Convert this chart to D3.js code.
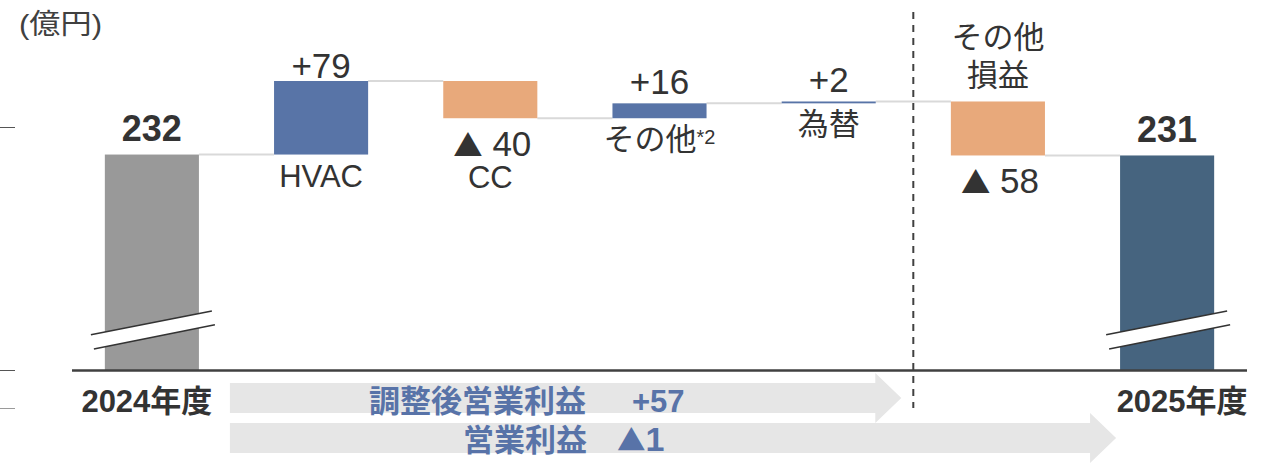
<!DOCTYPE html>
<html>
<head>
<meta charset="utf-8">
<script src="https://cdn.jsdelivr.net/npm/d3@7"></script>
<style>
  body { margin: 0; background: #fff; }
  svg { display: block; }
</style>
</head>
<body>
<svg id="chart"></svg>
<script>
// data
const categories = ["2024年度", "HVAC", "CC", "その他", "為替", "その他損益", "2025年度"];
const values = [232, 79, -40, 16, 2, -58, 231];
const isTotal = [true, false, false, false, false, false, true];
const valueLabels = ["232", "+79", "▲ 40", "+16", "+2", "▲ 58", "231"];
const catLabels = [["2024年度"], ["HVAC"], ["CC"], ["その他"], ["為替"], ["その他", "損益"], ["2025年度"]];
const arrowNames = ["調整後営業利益", "営業利益"];
const arrowValues = ["+57", "▲1"];
const unitLabel = "(億円)";

const W = 1261, H = 465;
const font = "'Liberation Sans', Arial, 'Noto Sans CJK JP', sans-serif";
const cjk = "'Noto Sans CJK JP', sans-serif";
const textColor = "#333333";
const blue = "#5874a7", orange = "#e8a97b", gray = "#999999", navy = "#46647f";

const svg = d3.select("#chart").attr("width", W).attr("height", H);

// writes a label, putting the triangle in the CJK font (a bit smaller)
function fillLabel(t, str) {
  const parts = str.split(/(▲)/).filter(s => s.length);
  parts.forEach(p => {
    const s = t.append("tspan").text(p);
    if (p === "▲") s.attr("font-family", cjk).attr("font-size", "0.84em");
  });
}

// build waterfall rows
let run = 0;
const rows = categories.map((c, i) => {
  let y0, y1;
  if (isTotal[i]) { y0 = 0; y1 = values[i]; run = values[i]; }
  else { y0 = run; y1 = run + values[i]; run = y1; }
  return { name: c, i, v: values[i], lo: Math.min(y0, y1), hi: Math.max(y0, y1), end: run };
});

const x = d3.scaleBand()
  .domain(categories)
  .range([71, 1248])
  .paddingInner(0.444)
  .paddingOuter(0.2);
const bw = x.bandwidth();

const y = d3.scaleLinear()
  .domain([0, d3.max(rows, d => d.hi)])
  .range([370.5, 81]);

const baseY = y(0);
const dashX = x("為替") + bw + (x.step() - bw) / 2;

// stray tick marks on the left
[127, 370, 408].forEach((ty, k) => {
  svg.append("line")
    .attr("x1", 0).attr("x2", 15)
    .attr("y1", ty + 0.5).attr("y2", ty + 0.5)
    .attr("stroke", k === 2 ? "#9a9a9a" : "#555")
    .attr("stroke-width", 1);
});

// unit
svg.append("text")
  .attr("x", 19).attr("y", 34)
  .attr("font-family", font).attr("font-size", 28)
  .attr("fill", "#404040")
  .attr("textLength", 83).attr("lengthAdjust", "spacingAndGlyphs")
  .text(unitLabel);

// arrows
const arrowStart = x(categories[0]) + bw + 31;
const arrowTips = [dashX - 12, x(categories[6]) - 4];
const arrowMid = [398, 438];
const arrowG = svg.append("g");
arrowTips.forEach((tip, k) => {
  const cy = arrowMid[k], hb = 15, hh = 25, hl = 26;
  const pts = [
    [arrowStart, cy - hb], [tip - hl, cy - hb], [tip - hl, cy - hh], [tip, cy],
    [tip - hl, cy + hh], [tip - hl, cy + hb], [arrowStart, cy + hb]
  ];
  arrowG.append("polygon")
    .attr("points", pts.map(p => p.join(",")).join(" "))
    .attr("fill", "#e6e6e6");
});

// arrow texts
const arrowTextX = [arrowStart + 139, arrowStart + 233];
const arrowValX = [arrowStart + 402, arrowStart + 387];
const arrowBase = [412, 451];
arrowNames.forEach((n, k) => {
  const t = svg.append("text")
    .attr("y", arrowBase[k])
    .attr("font-family", font).attr("font-weight", "bold")
    .attr("fill", "#5873a8");
  t.append("tspan").attr("x", arrowTextX[k]).attr("font-size", 31).text(n);
  const v = t.append("tspan").attr("x", arrowValX[k]).attr("font-size", k === 0 ? 31 : 34);
  fillLabel(v, arrowValues[k]);
});

// connectors
rows.slice(0, -1).forEach((d, i) => {
  const yy = y(d.end);
  svg.append("line")
    .attr("x1", x(d.name) + bw).attr("x2", x(categories[i + 1]))
    .attr("y1", yy).attr("y2", yy)
    .attr("stroke", "#d9d9d9").attr("stroke-width", 2);
});

// bars
svg.append("g").selectAll("rect")
  .data(rows)
  .join("rect")
  .attr("x", d => x(d.name))
  .attr("width", bw)
  .attr("y", d => y(d.hi))
  .attr("height", d => Math.max(1.8, y(d.lo) - y(d.hi)))
  .attr("fill", d => d.i === 0 ? gray : d.i === 6 ? navy : d.v > 0 ? blue : orange);

// break marks on total bars
rows.filter(d => isTotal[d.i]).forEach(d => {
  const cx = x(d.name) + bw / 2;
  const a1 = [cx - 61, 334.7], b1 = [cx + 60, 311];
  const a2 = [cx - 58, 349], b2 = [cx + 63, 324.7];
  svg.append("polygon")
    .attr("points", [a1, b1, b2, a2].map(p => p.join(",")).join(" "))
    .attr("fill", "#fff");
  [[a1, b1], [a2, b2]].forEach(([p, q]) => {
    svg.append("line")
      .attr("x1", p[0]).attr("y1", p[1]).attr("x2", q[0]).attr("y2", q[1])
      .attr("stroke", "#333").attr("stroke-width", 1.6);
  });
});

// baseline axis
svg.append("line")
  .attr("x1", 72).attr("x2", 1247)
  .attr("y1", baseY).attr("y2", baseY)
  .attr("stroke", "#404040").attr("stroke-width", 2.5);

// dashed divider
svg.append("line")
  .attr("x1", dashX).attr("x2", dashX)
  .attr("y1", 12).attr("y2", 408)
  .attr("stroke", "#404040").attr("stroke-width", 2)
  .attr("stroke-dasharray", "7,6");

// value labels
rows.forEach(d => {
  const cx = x(d.name) + bw / 2;
  let yy, bold = false, size = 35;
  if (isTotal[d.i]) { yy = y(d.hi) - 13.5; bold = true; size = 36; }
  else if (d.v > 0) { yy = y(d.hi) - (d.name === "HVAC" ? 3 : 9); }
  else { yy = y(d.lo) + 38; }
  const t = svg.append("text")
    .attr("x", cx + (d.v < 0 ? 2 : 0)).attr("y", yy)
    .attr("text-anchor", "middle")
    .attr("font-family", font).attr("font-size", size)
    .attr("font-weight", bold ? "bold" : "normal")
    .attr("fill", textColor);
  fillLabel(t, valueLabels[d.i]);
});

// category labels
rows.forEach(d => {
  const cx = x(d.name) + bw / 2;
  const lines = catLabels[d.i];
  if (isTotal[d.i]) {
    svg.append("text")
      .attr("x", cx + (d.i === 0 ? -5 : 15)).attr("y", 412)
      .attr("text-anchor", "middle")
      .attr("font-family", font).attr("font-size", 31).attr("font-weight", "bold")
      .attr("fill", textColor)
      .text(lines[0]);
    return;
  }
  let yy;
  if (lines.length > 1) {
    // label above the bar
    lines.forEach((ln, j) => {
      svg.append("text")
        .attr("x", cx).attr("y", y(d.hi) - 53 + j * 38)
        .attr("text-anchor", "middle")
        .attr("font-family", font).attr("font-size", 31)
        .attr("fill", textColor)
        .text(ln);
    });
    return;
  }
  if (d.v > 0) yy = y(d.lo) + 32;
  else yy = y(d.lo) + 70;
  const t = svg.append("text")
    .attr("x", cx).attr("y", yy)
    .attr("text-anchor", "middle")
    .attr("font-family", font).attr("font-size", 31)
    .attr("fill", textColor);
  t.append("tspan").text(lines[0]);
  if (d.name === "その他") {
    t.append("tspan").attr("font-size", 20).attr("dy", -6).text("*2");
  }
});
</script>
</body>
</html>
